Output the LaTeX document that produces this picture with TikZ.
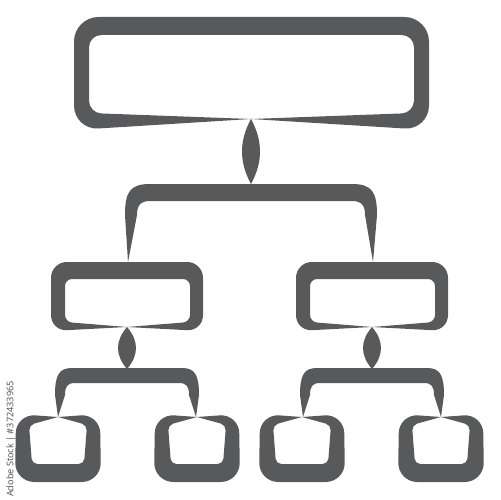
\documentclass[tikz,border=0pt]{standalone}
\usepackage{fontspec}
\setsansfont{Open Sans}
\definecolor{icongray}{RGB}{88,89,91}

\begin{document}
\begin{tikzpicture}[x=0.02cm, y=-0.02cm,
    frame/.style={fill=icongray, even odd rule},
    link/.style={fill=icongray}]
    \useasboundingbox (0,0) rectangle (500,500);

    % Top box
    \coordinate (root) at (251,119);
    \coordinate (hub) at (251,184);
    \fill[frame] (root) [rounded corners=14pt] -- (74,130) -- (74,17) -- (429,17) -- (429,130) -- (root)
        (root) [rounded corners=7pt] -- (89,113) -- (89,35) -- (414,35) -- (414,113) -- (root);

    % Spindle and upper bar
    \fill[link] (root) .. controls +(-12,22) and +(-12,-22) .. (hub)
        .. controls +(12,-22) and +(12,22) .. (root);
    \fill[link] (128,262) -- (125,215) .. controls (125,192) and (130,184) .. (150,184)
        -- (352,184) .. controls (372,184) and (377,192) .. (377,215) -- (373,262)
        -- (365,215) .. controls (365,206) and (362,201) .. (352,201)
        -- (150,201) .. controls (140,201) and (137,206) .. (137,215) -- cycle;

    % Middle boxes with their bars
    \foreach \cx in {127,372} {
        \begin{scope}[shift={(\cx,0)}]
            \coordinate (sub) at (0,327);
            \coordinate (subhub) at (0,369);
            \fill[frame] (sub) [rounded corners=9pt] -- (-76,331) -- (-76,262) -- (76,262) -- (76,331) -- (sub)
                (sub) [rounded corners=4pt] -- (-62,322) -- (-62,279) -- (63,279) -- (63,322) -- (sub);
            \fill[link] (sub) .. controls +(-12,14) and +(-12,-14) .. (subhub)
                .. controls +(12,-14) and +(12,14) .. (sub);
            \fill[link] (-69,417) -- (-72,395) .. controls (-72,375) and (-68,368) .. (-55,368)
                -- (55,368) .. controls (68,368) and (72,375) .. (72,395) -- (69,417)
                -- (62,395) .. controls (62,387) and (60,383) .. (52,383)
                -- (-52,383) .. controls (-60,383) and (-62,387) .. (-62,395) -- cycle;
        \end{scope}
    }

    % Bottom boxes
    \foreach \cx in {58,197,302,441} {
        \begin{scope}[shift={(\cx,0)}]
            \coordinate (leaf) at (0,417);
            \fill[frame] (leaf) [rounded corners=11pt] -- (42,414) -- (43,482) -- (-43,482) -- (-42,414) -- (leaf)
                (leaf) [rounded corners=3pt] -- (29,425) -- (26,464) -- (-26,464) -- (-29,425) -- (leaf);
        \end{scope}
    }

    \node[rotate=90, font=\sffamily\fontsize{5.2}{6}\selectfont, text=black!70, inner sep=0pt]
        (stamp) at (11,439) {Adobe Stock | \#372433965};
\end{tikzpicture}
\end{document}
